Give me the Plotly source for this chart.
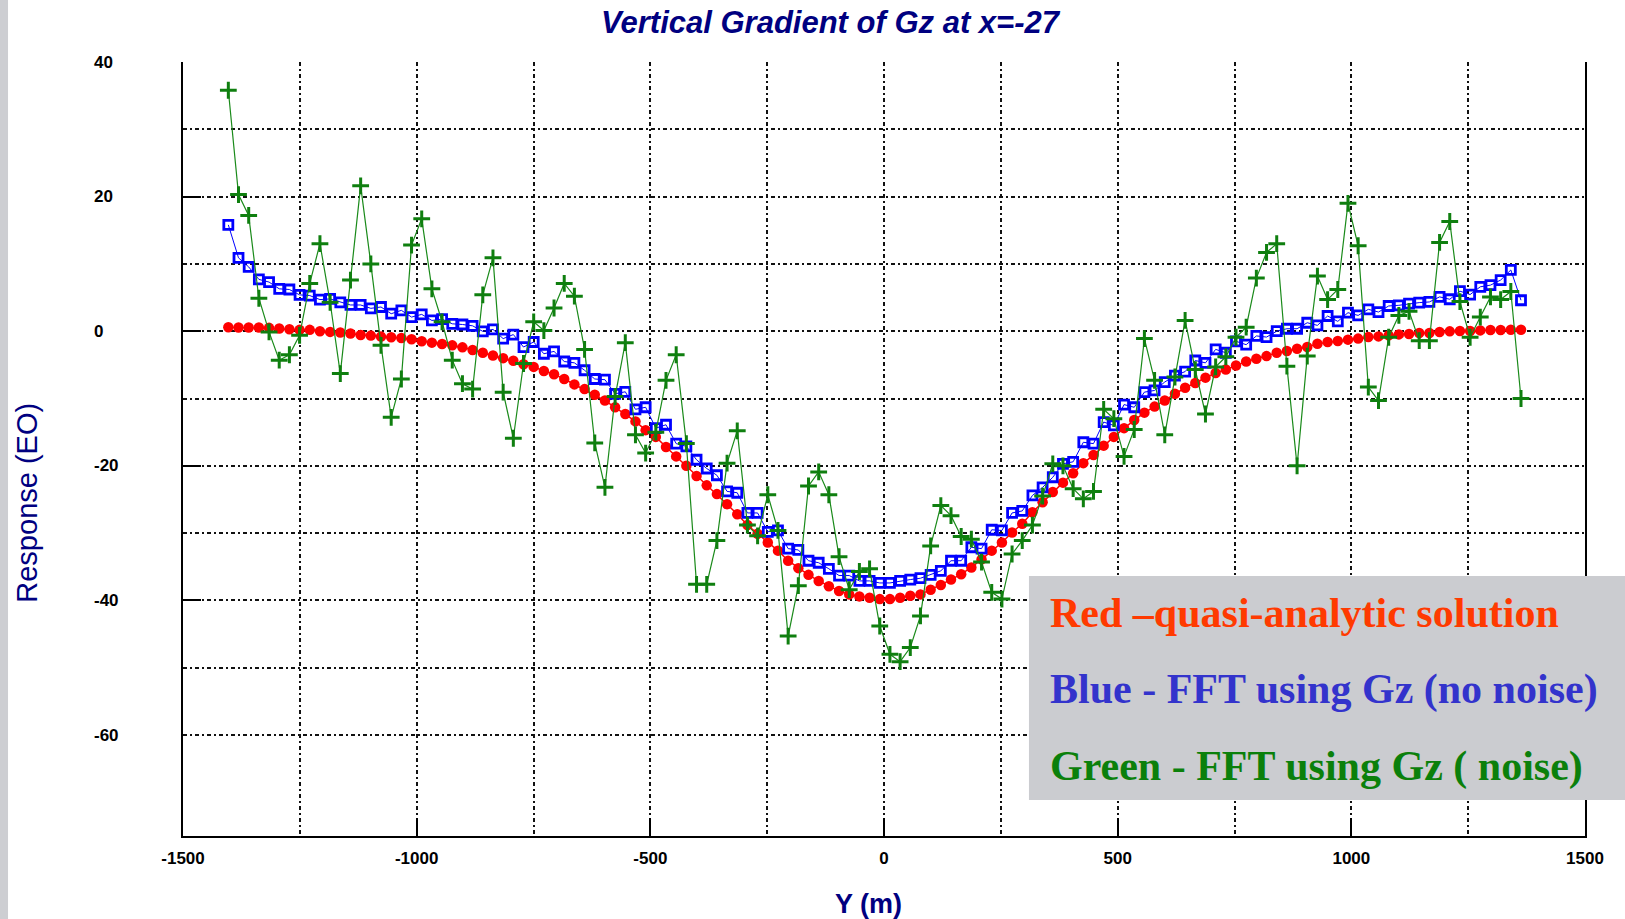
import numpy as np
import plotly.graph_objects as go

# Profile stations along Y (m): 128 evenly spaced samples
Y_START = -1403.0
Y_STEP = 21.78
N_STATIONS = 128
stations = Y_START + Y_STEP * np.arange(N_STATIONS)

# Quasi-analytic vertical gradient (red)
quasi_analytic = [
    0.6, 0.55, 0.55, 0.55, 0.5, 0.4, 0.3, 0.2, 0.2, 0.0, -0.1, -0.2, -0.35, -0.55, -0.65,
    -0.8, -0.9, -1.0, -1.2, -1.5, -1.7, -1.9, -2.1, -2.4, -2.8,
    -3.2, -3.6, -4.0, -4.4, -4.9, -5.3, -5.9, -6.4, -7.1, -7.9, -8.6, -9.45, -10.3, -11.3,
    -12.3, -13.4, -14.7, -15.7, -17.2, -18.6, -20.0, -21.5, -22.9, -24.2, -25.7, -27.2,
    -28.8, -30.1, -31.4, -32.6, -34.1, -35.2, -36.2, -37.1, -37.9, -38.6, -39.1, -39.4,
    -39.6, -39.8, -39.8, -39.6, -39.3, -39.1, -38.4, -37.7, -36.9, -36.1, -35.1, -33.9,
    -32.6, -31.4,
    -29.9, -28.6, -26.9, -25.4, -23.9, -22.5, -21.1, -19.6, -18.4, -17.0, -15.7, -14.4,
    -13.2, -12.1, -11.2, -10.3, -9.3, -8.4, -7.7, -6.9, -6.2, -5.7, -5.1, -4.5, -4.1,
    -3.7, -3.2,
    -2.95, -2.6, -2.35, -1.85, -1.6, -1.45, -1.25, -1.1, -0.87, -0.77, -0.62, -0.47,
    -0.42, -0.27, -0.27, -0.12, -0.02, 0.03, 0.03, 0.12, 0.17, 0.17, 0.22, 0.22,
]

# FFT result computed from Gz without noise (blue)
fft_clean = [
    15.8, 10.9, 9.55, 7.7, 7.3, 6.3, 6.2, 5.4, 5.3, 4.7, 4.8, 4.3, 3.9, 3.9, 3.4, 3.6,
    2.6, 3.1, 2.1, 2.5, 1.6, 1.8, 1.1, 1.0, 0.8,
    -0.02, 0.27, -1.1, -0.5, -2.35, -1.6, -3.35, -3.0, -4.5, -4.7, -5.8, -7.1, -7.2,
    -9.3, -9.0, -11.6, -11.3, -14.4, -13.9, -16.7, -17.1, -19.1, -20.4, -21.4, -23.8,
    -24.0, -27.0,
    -27.0, -29.8, -29.6, -32.3, -32.5, -34.1, -34.4, -35.3, -36.3, -36.3, -37.1, -37.1,
    -37.4, -37.4, -37.1, -36.9, -36.7, -36.2, -35.6, -34.1, -34.1, -32.1, -32.3, -29.5,
    -29.6, -27.0,
    -26.7, -24.4, -23.2, -21.7, -19.7, -19.4, -16.5, -16.7, -13.5, -14.0, -10.9, -11.3,
    -9.05, -8.8, -7.55, -6.6, -6.0, -4.35, -4.7, -2.7, -3.2, -1.5, -2.0, -0.7, -0.87, 0.0,
    0.37, 0.37, 1.26, 0.87, 2.26, 1.46, 2.75, 2.35, 3.25, 2.85, 3.75, 3.85, 4.1, 4.25,
    4.35, 5.1, 4.75, 5.95, 5.45, 6.6, 6.85, 7.6, 9.1, 4.6,
]

# FFT result computed from noisy Gz (green)
fft_noisy = [
    35.8, 20.3, 17.2, 4.9, -0.1, -4.3, -3.5, -0.6, 7.1, 13.0, 4.3, -6.3, 7.6, 21.6, 10.0,
    -2.1, -12.8, -7.1, 12.8, 16.7, 6.3, 1.4, -4.3, -7.8, -8.6,
    5.4, 10.9, -9.05, -15.9, -4.8, 1.4, 0.1, 3.45, 7.1, 5.2, -2.7, -16.6, -23.2, -9.7,
    -1.7, -15.4, -18.1, -15.0, -7.3, -3.5, -16.7, -37.6, -37.6, -31.1, -19.6, -14.8,
    -28.8, -30.4, -24.3, -29.6, -45.3, -37.8, -23.0, -20.9, -24.3, -33.5, -38.4, -35.7,
    -35.3, -43.8, -48.0, -49.1, -47.0, -42.3, -31.9, -25.9, -27.4, -30.5, -30.9, -34.3,
    -38.8, -39.8,
    -33.1, -31.1, -28.8, -24.5, -19.7, -20.0, -23.4, -24.9, -23.8, -11.6, -13.0, -18.6,
    -14.6, -1.1, -7.3, -15.4, -6.8, 1.6, -5.7, -12.3, -5.3, -3.8, -0.9, 0.6, 7.9, 11.7, 13.0,
    -5.2, -20.0, -3.7, 8.2, 4.7, 6.2, 19.0, 12.7, -8.3, -10.3, -0.9, 2.35, 2.95, -1.4,
    -1.4, 13.2, 16.3, 4.4, -0.9, 2.1, 5.1, 4.7, 5.9, -10.0,
]

x_tick_vals = [-1500, -1000, -500, 0, 500, 1000, 1500]
x_tick_text = ["-1500", "-1000", "-500", "0", "500", "1000", "1500"]
x_grid_minor = [-1250, -750, -250, 250, 750, 1250]
y_tick_vals = [40, 20, 0, -20, -40]
y_label_vals = [40, 20, 0, -20, -40, -60]
y_label_text = ["40", "20", "0", "-20", "-40", "-60"]
y_grid_minor = [30, 10, -10, -30, -50, -60]

legend_lines = [
    "Red \u2013quasi-analytic solution",
    "Blue - FFT using Gz (no noise)",
    "Green - FFT using Gz ( noise)",
]
legend_colors = ["#ff3a00", "#3333cc", "#0b800b"]

NAVY = "#000080"
GRID_DASH = "4px,3px,2px,3px"
GRID_COLOR = "#111111"
GRID_WIDTH = 1.5
SANS = "Liberation Sans, Arial, sans-serif"

fig = go.Figure()

fig.add_trace(go.Scatter(
    x=stations, y=quasi_analytic, mode="lines+markers",
    line=dict(color="#ff0000", width=1.5),
    marker=dict(symbol="circle", size=10.5, color="#ff0000"),
))
fig.add_trace(go.Scatter(
    x=stations, y=fft_clean, mode="lines+markers",
    line=dict(color="#0000ff", width=1),
    marker=dict(symbol="square-open", size=9, color="#0000ff",
                line=dict(width=2.8, color="#0000ff")),
))
fig.add_trace(go.Scatter(
    x=stations, y=fft_noisy, mode="lines+markers",
    line=dict(color="#1a8a1a", width=1.2),
    marker=dict(symbol="cross-thin-open", size=12, color="#0f7f0f",
                line=dict(width=3, color="#0f7f0f")),
))

fig.update_xaxes(
    range=[-1500, 1500], tickmode="array", tickvals=x_tick_vals, ticktext=x_tick_text,
    ticks="inside", ticklen=18, tickwidth=2, tickcolor="black",
    showgrid=True, gridcolor=GRID_COLOR, gridwidth=GRID_WIDTH, griddash=GRID_DASH,
    minor=dict(tickmode="array", tickvals=x_grid_minor, showgrid=True, ticks="",
               gridcolor=GRID_COLOR, gridwidth=GRID_WIDTH, griddash=GRID_DASH),
    showline=True, linecolor="black", linewidth=2, mirror=False, zeroline=False,
    tickfont=dict(family=SANS, size=17, color="black", weight="bold"),
    ticklabelstandoff=6,
)
fig.update_yaxes(
    range=[-75, 40], tickmode="array", tickvals=y_tick_vals, showticklabels=False,
    ticks="inside", ticklen=18, tickwidth=2, tickcolor="black",
    showgrid=True, gridcolor=GRID_COLOR, gridwidth=GRID_WIDTH, griddash=GRID_DASH,
    minor=dict(tickmode="array", tickvals=y_grid_minor, showgrid=True, ticks="",
               gridcolor=GRID_COLOR, gridwidth=GRID_WIDTH, griddash=GRID_DASH),
    showline=True, linecolor="black", linewidth=2, mirror=True, zeroline=False,
)

annotations = []
for v, t in zip(y_label_vals, y_label_text):
    annotations.append(dict(
        x=-0.0649, xref="paper", y=v, yref="y", text=t, showarrow=False,
        xanchor="left", yanchor="middle",
        font=dict(family=SANS, size=17, color="black", weight="bold"),
    ))

annotations.append(dict(
    x=0.4622, y=1.0504, xref="paper", yref="paper", showarrow=False,
    text="Vertical Gradient of Gz at x=-27", xanchor="center", yanchor="middle",
    font=dict(family=SANS, size=31, color=NAVY, weight="bold", style="italic"),
))
annotations.append(dict(
    x=-0.1115, y=0.4302, xref="paper", yref="paper", showarrow=False,
    text="Response (EO)", textangle=-90, xanchor="center", yanchor="middle",
    font=dict(family=SANS, size=29, color=NAVY),
))
annotations.append(dict(
    x=0.4886, y=-0.0879, xref="paper", yref="paper", showarrow=False,
    text="Y (m)", xanchor="center", yanchor="middle",
    font=dict(family=SANS, size=27, color=NAVY, weight="bold"),
))

legend_y = [0.2881, 0.1899, 0.0904]
for text, color, yy in zip(legend_lines, legend_colors, legend_y):
    annotations.append(dict(
        x=0.6170, y=yy, xref="paper", yref="paper", showarrow=False,
        text=text, xanchor="left", yanchor="middle",
        font=dict(family="Liberation Serif, Times New Roman, serif", size=42,
                  color=color, weight="bold"),
    ))

shapes = [
    # grey slide strip along the left edge
    dict(type="rect", xref="paper", yref="paper", x0=-0.14, x1=-0.1248, y0=-0.2, y1=1.2,
         fillcolor="#cdced2", line=dict(width=0), layer="above"),
    # caption panel
    dict(type="rect", xref="paper", yref="paper", x0=0.6034, x1=1.05, y0=0.0465, y1=0.3359,
         fillcolor="#cbccd0", line=dict(width=0), layer="above"),
]

fig.update_layout(
    width=1625, height=919, autosize=False,
    margin=dict(l=183, r=40, t=62, b=83),
    paper_bgcolor="white", plot_bgcolor="white",
    showlegend=False, annotations=annotations, shapes=shapes,
)

fig.write_html("out.html")
